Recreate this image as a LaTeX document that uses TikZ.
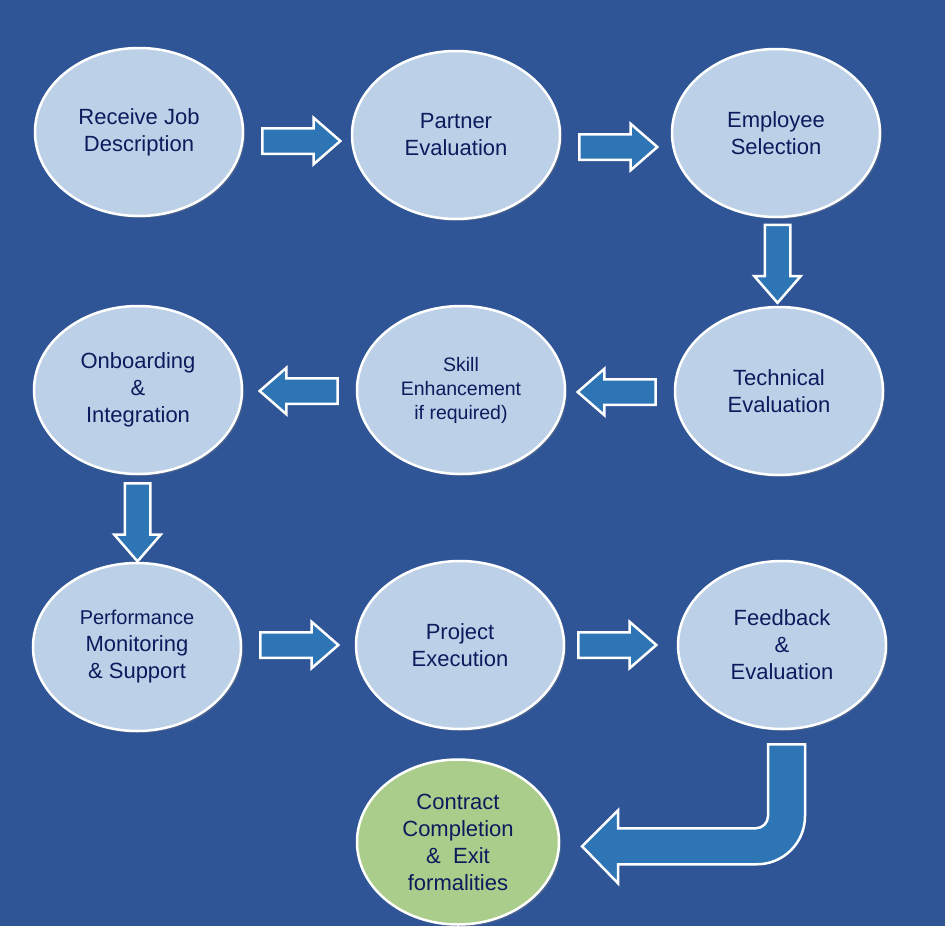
\documentclass[tikz,border=0pt]{standalone}
\usepackage{fontspec}
\setmainfont{Liberation Sans}
\usetikzlibrary{shapes.geometric,shapes.arrows,shadows,calc}

\definecolor{bgblue}{HTML}{2F5597}
\definecolor{ellin}{HTML}{BCD0E8}
\definecolor{ellout}{HTML}{9DB5D6}
\definecolor{grnin}{HTML}{AACD8C}
\definecolor{grnout}{HTML}{8DB26E}
\definecolor{arrblue}{HTML}{2E75B6}
\definecolor{navy}{HTML}{0E1A5C}

\pgfdeclareradialshading{ellshade}{\pgfpoint{0bp}{0bp}}{color(0bp)=(ellin); color(36bp)=(ellin); color(50bp)=(ellout); color(72bp)=(ellout)}
\pgfdeclareradialshading{grnshade}{\pgfpoint{0bp}{0bp}}{color(0bp)=(grnin); color(36bp)=(grnin); color(50bp)=(grnout); color(72bp)=(grnout)}

\tikzset{
  stage/.style={ellipse, shading=ellshade, draw=white, line width=2.5pt,
    minimum width=208pt, minimum height=168pt, inner sep=0pt, align=center,
    text=navy, font=\fontsize{22}{27}\selectfont,
    drop shadow={opacity=0.35, shadow xshift=2pt, shadow yshift=-2pt}},
  finalstage/.style={stage, shading=grnshade, minimum width=202pt, minimum height=165pt},
  blockarr/.style={single arrow, draw=white, line width=2.5pt, fill=arrblue,
    minimum height=78pt, minimum width=44pt, single arrow head extend=10.5pt,
    single arrow tip angle=82, inner xsep=0pt, inner ysep=11.5pt},
}

\begin{document}
\begin{tikzpicture}[x=1pt, y=-1pt]

  % Background
  \useasboundingbox (0,0) rectangle (945,945);
  \fill[bgblue] (0,0) rectangle (945,926);

  % First row
  \node[stage] (rec) at (139,132) {Receive Job\\Description};
  \node[stage] (par) at (456,135) {Partner\\Evaluation};
  \node[stage] (emp) at (776,133) {Employee\\Selection};

  % Second row
  \node[stage] (tec) at (779,391) {Technical\\Evaluation};
  \node[stage, font=\fontsize{19.5}{24}\selectfont] (skl) at (461,390) {Skill\\Enhancement\\if required)};
  \node[stage] (onb) at (138,390) {Onboarding\\\&\\Integration};

  % Third row
  \node[stage] (per) at (137,647) {{\fontsize{20}{27}\selectfont Performance}\\Monitoring\\\& Support};
  \node[stage] (pro) at (460,645) {Project\\Execution};
  \node[stage] (fbk) at (782,645) {Feedback\\\&\\Evaluation};

  % Last step
  \node[finalstage] (con) at (458,842) {Contract\\Completion\\\&\ \ Exit\\formalities};

  % Block arrows between the steps
  \node[blockarr] (a1) at ($(rec)!.5!(par)+(-3.5,7.5)$) {};
  \node[blockarr] (a2) at ($(par)!.5!(emp)+(-5,13)$) {};
  \node[blockarr, rotate=-90] (a3) at ($(emp)!.5!(tec)+(0,-5.5)$) {};
  \node[blockarr, rotate=180] (a4) at ($(tec)!.5!(skl)+(4,1.5)$) {};
  \node[blockarr, rotate=180] (a5) at ($(skl)!.5!(onb)+(6.5,1)$) {};
  \node[blockarr, rotate=-90] (a6) at ($(onb)!.5!(per)+(0,-3.5)$) {};
  \node[blockarr] (a7) at ($(per)!.5!(pro)+(-6.5,-1)$) {};
  \node[blockarr] (a8) at ($(pro)!.5!(fbk)+(-11,0)$) {};

  % Bent arrow down to the last step
  \begin{scope}[shift={(fbk.south)}]
    \filldraw[fill=arrblue, draw=white, line width=2.5pt, line join=miter]
      (-14,14) -- (23,14) -- (23,86)
      .. controls (23,112.5) and (1.5,134) .. (-25,134)
      -- (-164,134) -- (-164,153) -- (-200,116) -- (-164,80) -- (-164,98)
      -- (-26,98) .. controls (-19.4,98) and (-14,92.4) .. (-14,86) -- cycle;
  \end{scope}

\end{tikzpicture}
\end{document}
